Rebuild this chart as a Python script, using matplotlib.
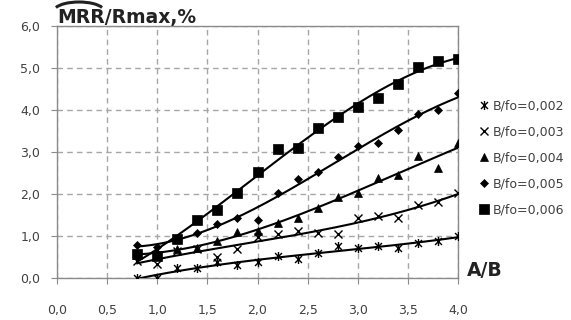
import numpy as np
import matplotlib
matplotlib.use("Agg")
import matplotlib.pyplot as plt
from matplotlib.path import Path
from matplotlib.patches import Arc

# ---------------- data ----------------
ab = [0.8, 1.0, 1.2, 1.4, 1.6, 1.8, 2.0, 2.2, 2.4, 2.6, 2.8, 3.0, 3.2, 3.4, 3.6, 3.8, 4.0]

mrr_002 = [0.00, 0.00, 0.23, 0.25, 0.37, 0.31, 0.39, 0.52, 0.45, 0.59, 0.76, 0.71, 0.76, 0.71, 0.84, 0.89, 1.00]
mrr_003 = [0.40, 0.33, 0.65, 0.70, 0.50, 0.70, 0.97, 1.05, 1.13, 1.08, 1.05, 1.42, 1.48, 1.44, 1.74, 1.80, 2.03]
mrr_004 = [0.55, 0.62, 0.68, 0.71, 0.87, 1.10, 1.13, 1.32, 1.42, 1.66, 1.92, 2.02, 2.37, 2.45, 2.90, 2.61, 3.21]
mrr_005 = [0.79, 0.74, 0.94, 1.08, 1.29, 1.42, 1.39, 2.03, 2.35, 2.52, 2.89, 3.14, 3.22, 3.52, 3.90, 4.00, 4.40]
mrr_006 = [0.57, 0.52, 0.92, 1.38, 1.62, 2.02, 2.53, 3.06, 3.10, 3.58, 3.84, 4.08, 4.29, 4.61, 5.03, 5.17, 5.21]

labels = ["B/fo=0,002", "B/fo=0,003", "B/fo=0,004", "B/fo=0,005", "B/fo=0,006"]
series = [mrr_002, mrr_003, mrr_004, mrr_005, mrr_006]

xticks = [0.0, 0.5, 1.0, 1.5, 2.0, 2.5, 3.0, 3.5, 4.0]
yticks = [0, 1, 2, 3, 4, 5, 6]

# excel-like "star" marker: x with a vertical bar
star = Path([(-1, -1), (1, 1), (-1, 1), (1, -1), (0, -1.3), (0, 1.3)],
            [Path.MOVETO, Path.LINETO, Path.MOVETO, Path.LINETO, Path.MOVETO, Path.LINETO])

markers = [star, "x", "^", "D", "s"]
sizes = [6.5, 6, 6, 4.5, 6.5]
mew = [1.0, 1.0, 0.5, 0.5, 0.5]

plt.rcParams["font.family"] = "DejaVu Sans"
grey = "#8a8a8a"
gridgrey = "#a6a6a6"

fig = plt.figure(figsize=(5.71, 3.2), dpi=100)
ax = fig.add_axes([57 / 571, 1 - 278 / 320, 401 / 571, 252 / 320])

xs = np.linspace(ab[0], ab[-1], 200)
for vals, m, s, w, lab in zip(series, markers, sizes, mew, labels):
    ax.plot(ab, vals, linestyle="none", marker=m, markersize=s, color="black",
            markeredgewidth=w, label=lab, zorder=4)
    coef = np.polyfit(ab, vals, 3)
    ax.plot(xs, np.polyval(coef, xs), color="black", lw=1.5, zorder=3)

ax.set_xlim(0, 4)
ax.set_ylim(0, 6)
ax.set_xticks(xticks)
ax.set_yticks(yticks)
ax.set_xticklabels([f"{t:.1f}".replace(".", ",") for t in xticks])
ax.set_yticklabels([f"{t:.1f}".replace(".", ",") for t in yticks])
ax.tick_params(axis="both", colors=grey, labelcolor="#404040", labelsize=9, length=4)
ax.tick_params(axis="x", pad=15)
ax.tick_params(axis="y", pad=8)

ax.grid(True, color=gridgrey, linestyle=(0, (4, 3)), lw=1)
for sp in ax.spines.values():
    sp.set_color(grey)
    sp.set_linewidth(1)

ax.legend(loc="upper left", bbox_to_anchor=(474 / 571, 1 - 93 / 320),
          bbox_transform=fig.transFigure, frameon=False, fontsize=9,
          handlelength=0.6, handletextpad=0.4, labelspacing=1.05,
          borderpad=0, labelcolor="#404040")

fig.text(57 / 571, 1 - 23 / 320, "MRR/Rmax,%", fontsize=13.5, fontweight="bold",
         color="#222222", ha="left", va="baseline")
fig.patches.append(Arc((79 / 571, 1 - 11 / 320), 50 / 571, 18 / 320,
                       theta1=15, theta2=165, transform=fig.transFigure,
                       color="#222222", lw=2.2))
fig.text(467 / 571, 1 - 270 / 320, "A/B", fontsize=13.5, fontweight="bold",
         color="#222222", ha="left", va="center")

fig.savefig("out.png", dpi=100)
